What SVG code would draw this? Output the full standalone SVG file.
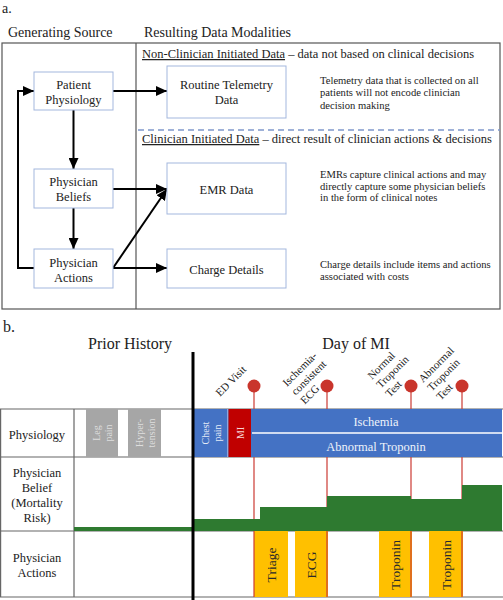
<svg xmlns="http://www.w3.org/2000/svg" width="503" height="600" viewBox="0 0 503 600">
<style>
text{font-family:"Liberation Serif","Times New Roman",serif;fill:#222}
.h{font-size:14px}
.sub{font-size:12.5px}
.lbl{font-size:12.5px;text-anchor:middle}
.desc{font-size:10.6px}
.node rect{fill:#fff;stroke:#a3b7de;stroke-width:1}
.conn{stroke:#000;stroke-width:2;fill:none}
.frame{fill:none;stroke:#555;stroke-width:1.2}
.tl{stroke:#666;stroke-width:1.2}
.stem{stroke:#cc3a33;stroke-width:1.2}
.pin{fill:#c9352c}
.ev{font-size:11px}
.row{font-size:12.5px;text-anchor:middle}
.act{font-size:13.5px;text-anchor:middle;fill:#2a2a2a}
.sm{font-size:10px;text-anchor:middle}
.big{font-size:16px}
</style>
<defs>
<marker id="ah" markerUnits="userSpaceOnUse" markerWidth="12" markerHeight="10" refX="11" refY="5" orient="auto"><path d="M0,0 L11,5 L0,10 z" fill="#000"/></marker>
</defs>
<rect width="503" height="600" fill="#fff"/>

<!-- Part a -->
<text x="2" y="13" class="h">a.</text>
<text x="8" y="37" class="h">Generating Source</text>
<text x="144" y="37" class="h">Resulting Data Modalities</text>
<rect x="2" y="43" width="498" height="266" class="frame"/>
<line x1="136" y1="43" x2="136" y2="309" class="frame"/>
<text x="142" y="58" class="sub"><tspan style="text-decoration:underline">Non-Clinician Initiated Data</tspan> – data not based on clinical decisions</text>
<line x1="138" y1="130" x2="500" y2="130" stroke="#7f98cc" stroke-width="1.5" stroke-dasharray="6,4"/>
<text x="142" y="143" class="sub"><tspan style="text-decoration:underline">Clinician Initiated Data</tspan> – direct result of clinician actions &amp; decisions</text>

<g id="connectors">
<line x1="113" y1="91" x2="167" y2="91" class="conn" marker-end="url(#ah)"/>
<line x1="73.5" y1="110" x2="73.5" y2="169" class="conn" marker-end="url(#ah)"/>
<line x1="73.5" y1="208" x2="73.5" y2="249" class="conn" marker-end="url(#ah)"/>
<line x1="113" y1="189" x2="167" y2="189" class="conn" marker-end="url(#ah)"/>
<line x1="113" y1="268" x2="167" y2="189" class="conn" marker-end="url(#ah)"/>
<line x1="113" y1="268" x2="167" y2="268" class="conn" marker-end="url(#ah)"/>
<polyline points="34,268 18,268 18,91 34,91" class="conn" marker-end="url(#ah)"/>
</g>

<g id="node-patient-physiology" class="node">
<rect x="34" y="72" width="79" height="38"/>
<text x="73.5" y="89" class="lbl">Patient</text>
<text x="73.5" y="104" class="lbl">Physiology</text>
</g>
<g id="node-physician-beliefs" class="node">
<rect x="34" y="169" width="79" height="39"/>
<text x="73.5" y="186" class="lbl">Physician</text>
<text x="73.5" y="201" class="lbl">Beliefs</text>
</g>
<g id="node-physician-actions" class="node">
<rect x="34" y="249" width="79" height="39"/>
<text x="73.5" y="267" class="lbl">Physician</text>
<text x="73.5" y="282" class="lbl">Actions</text>
</g>
<g id="node-telemetry" class="node">
<rect x="167" y="66" width="119" height="52"/>
<text x="226.5" y="89" class="lbl">Routine Telemetry</text>
<text x="226.5" y="104" class="lbl">Data</text>
</g>
<g id="node-emr" class="node">
<rect x="167" y="163" width="119" height="51"/>
<text x="226.5" y="194" class="lbl">EMR Data</text>
</g>
<g id="node-charge" class="node">
<rect x="167" y="249" width="119" height="39"/>
<text x="226.5" y="274" class="lbl">Charge Details</text>
</g>
<g id="desc-telemetry">
<text x="320" y="84" class="desc">Telemetry data that is collected on all</text>
<text x="320" y="96" class="desc">patients will not encode clinician</text>
<text x="320" y="109" class="desc">decision making</text>
</g>
<g id="desc-emr">
<text x="320" y="178" class="desc">EMRs capture clinical actions and may</text>
<text x="320" y="190" class="desc">directly capture some physician beliefs</text>
<text x="320" y="201" class="desc">in the form of clinical notes</text>
</g>
<g id="desc-charge">
<text x="320" y="268" class="desc">Charge details include items and actions</text>
<text x="320" y="280" class="desc">associated with costs</text>
</g>

<!-- Part b -->
<text x="3" y="332" class="big">b.</text>
<text x="130" y="349" class="big" text-anchor="middle">Prior History</text>
<text x="356" y="349" class="big" text-anchor="middle">Day of MI</text>

<g id="table">
<line x1="0" y1="409" x2="503" y2="409" class="tl"/>
<line x1="0" y1="457" x2="503" y2="457" class="tl"/>
<line x1="0" y1="531" x2="503" y2="531" class="tl"/>
<line x1="0" y1="597" x2="503" y2="597" class="tl"/>
<line x1="0.6" y1="409" x2="0.6" y2="597" class="tl"/>
<line x1="74" y1="409" x2="74" y2="597" class="tl"/>
<text x="37" y="439" class="row">Physiology</text>
<text x="37" y="477" class="row">Physician</text>
<text x="37" y="492" class="row">Belief</text>
<text x="37" y="507" class="row">(Mortality</text>
<text x="37" y="522" class="row">Risk)</text>
<text x="37" y="562" class="row">Physician</text>
<text x="37" y="577" class="row">Actions</text>
</g>

<g id="actions">
<rect x="254" y="531" width="34" height="66" fill="#ffc000"/>
<rect x="295" y="531" width="33" height="66" fill="#ffc000"/>
<rect x="379" y="531" width="33" height="66" fill="#ffc000"/>
<rect x="429" y="531" width="34" height="66" fill="#ffc000"/>
<text transform="translate(276,565) rotate(-90)" class="act">Triage</text>
<text transform="translate(316,565) rotate(-90)" class="act">ECG</text>
<text transform="translate(400,565) rotate(-90)" class="act">Troponin</text>
<text transform="translate(450.5,565) rotate(-90)" class="act">Troponin</text>
</g>

<g id="events">
<line x1="254" y1="386" x2="254" y2="597" class="stem"/>
<line x1="327" y1="386" x2="327" y2="597" class="stem"/>
<line x1="411" y1="386" x2="411" y2="597" class="stem"/>
<line x1="462" y1="386" x2="462" y2="597" class="stem"/>
<circle cx="254" cy="386" r="6.5" class="pin"/>
<circle cx="327" cy="386" r="6.5" class="pin"/>
<circle cx="411" cy="386" r="6.5" class="pin"/>
<circle cx="462" cy="386" r="6.5" class="pin"/>
<text transform="translate(220,397) rotate(-45)" class="ev">ED Visit</text>
<text transform="translate(287,387) rotate(-45)" class="ev"><tspan x="0" y="0">Ischemia-</tspan><tspan x="0" y="12.5">consistent</tspan><tspan x="0" y="25">ECG</tspan></text>
<text transform="translate(372,380) rotate(-45)" class="ev"><tspan x="0" y="0">Normal</tspan><tspan x="0" y="12.5">Troponin</tspan><tspan x="0" y="25">Test</tspan></text>
<text transform="translate(423,383) rotate(-45)" class="ev"><tspan x="0" y="0">Abnormal</tspan><tspan x="0" y="12.5">Troponin</tspan><tspan x="0" y="25">Test</tspan></text>
</g>

<g id="belief">
<rect x="74" y="527" width="119" height="4" fill="#2e7a30"/>
<path d="M194,531 L194,519 L260,519 L260,507 L327,507 L327,496 L411,496 L411,499 L462,499 L462,485 L502,485 L502,531 Z" fill="#2e7a30"/>
</g>

<g id="physiology">
<rect x="86" y="409" width="32" height="48" fill="#a6a6a6"/>
<rect x="128" y="409" width="33" height="48" fill="#a6a6a6"/>
<text transform="translate(102,433) rotate(-90)" class="sm" style="fill:#dedede"><tspan x="0" y="-2">Leg</tspan><tspan x="0" y="10">pain</tspan></text>
<text transform="translate(144.5,433) rotate(-90)" class="sm" style="fill:#dedede"><tspan x="0" y="-2">Hyper-</tspan><tspan x="0" y="10">tension</tspan></text>
<rect x="194" y="409" width="308" height="48" fill="#4472c4"/>
<line x1="227.8" y1="409" x2="227.8" y2="457" stroke="#c9d6ef" stroke-width="0.8"/>
<rect x="228.5" y="409" width="22.5" height="48" fill="#c00000"/>
<line x1="252" y1="433" x2="502" y2="433" stroke="#fff" stroke-width="1.5"/>
<text transform="translate(210.5,433) rotate(-90)" class="sm" style="fill:#e4ebf7"><tspan x="0" y="-2">Chest</tspan><tspan x="0" y="10">pain</tspan></text>
<text transform="translate(244,433) rotate(-90)" class="sm" style="fill:#f6d6d6">MI</text>
<text x="376" y="426" style="font-size:12.5px;text-anchor:middle;fill:#eef2fa">Ischemia</text>
<text x="376" y="451" style="font-size:12.5px;text-anchor:middle;fill:#eef2fa">Abnormal Troponin</text>
</g>

<line x1="193" y1="352" x2="193" y2="600" stroke="#000" stroke-width="3"/>
</svg>
